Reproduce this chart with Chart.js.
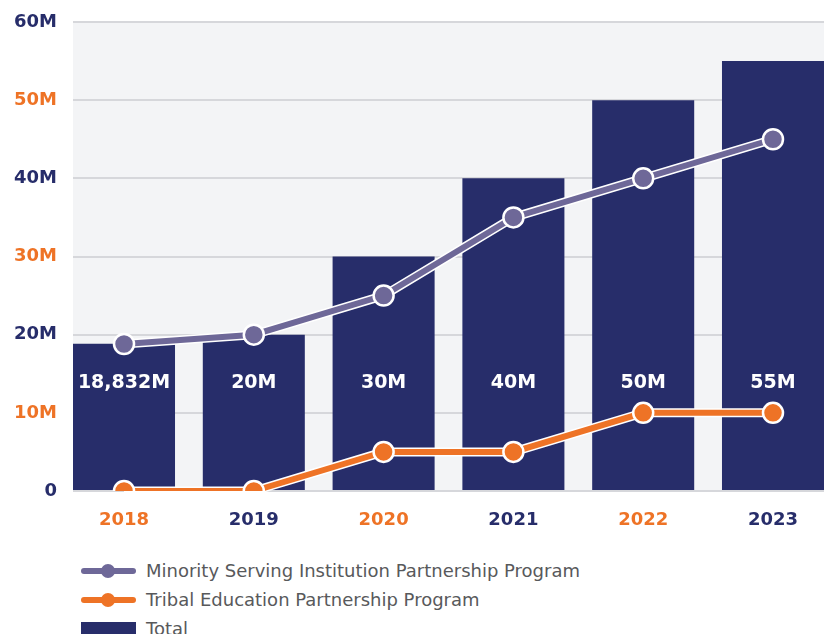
<!DOCTYPE html>
<html lang="en">
<head>
<meta charset="UTF-8">
<title>Partnership Programs</title>
<script src="https://cdn.jsdelivr.net/npm/chart.js"></script>
<style>
    body { margin: 0; background: #fff; font-family: "DejaVu Sans", sans-serif; }
    #wrap { position: relative; width: 831px; height: 540px; }
    #legend { position: absolute; left: 81px; top: 556px; }
    .item { display: flex; align-items: center; height: 29px; font-size: 18px; color: #58595b; }
    .sym { position: relative; width: 55px; height: 20px; margin-right: 10px; }
    .sym .ln { position: absolute; left: 0; right: 0; top: 7px; height: 6px; border-radius: 3px; }
    .sym .dot { position: absolute; left: 20px; top: 3px; width: 14px; height: 14px; border-radius: 50%; }
    .sym .box { position: absolute; left: 0; right: 0; top: 3px; height: 14px; }
</style>
</head>
<body>
<div id="wrap"><canvas id="chart"></canvas></div>
<div id="legend"></div>

<script>
// data
var years = ['2018', '2019', '2020', '2021', '2022', '2023'];
var totals = [18.832, 20, 30, 40, 50, 55];
var totalLabels = ['18,832M', '20M', '30M', '40M', '50M', '55M'];
var minority = [18.8, 20, 25, 35, 40, 45];
var tribal = [0, 0, 5, 5, 10, 10];

var NAVY = '#272d6a';
var ORANGE = '#ee7326';
var PURPLE = '#6e6898';

function pts(arr) {
    return arr.map(function (v, i) { return { x: i, y: v }; });
}

// gray plot background
var bgPlugin = {
    id: 'bg',
    beforeDraw: function (chart) {
        var a = chart.chartArea, ctx = chart.ctx;
        ctx.save();
        ctx.fillStyle = '#f3f4f6';
        ctx.fillRect(a.left, a.top, a.right - a.left, a.bottom - a.top);
        ctx.restore();
    }
};

// white outline under the lines
var outlinePlugin = {
    id: 'outline',
    beforeDatasetDraw: function (chart, args) {
        var ds = chart.data.datasets[args.index];
        if (ds.type !== 'line') return;
        var ctx = chart.ctx;
        ctx.save();
        ctx.strokeStyle = '#fff';
        ctx.lineWidth = 9;
        ctx.lineJoin = 'round';
        ctx.beginPath();
        args.meta.data.forEach(function (p, i) {
            if (i === 0) ctx.moveTo(p.x, p.y); else ctx.lineTo(p.x, p.y);
        });
        ctx.stroke();
        ctx.restore();
    }
};

// value labels inside the bars
var barLabelPlugin = {
    id: 'barLabels',
    afterDatasetDraw: function (chart, args) {
        var ds = chart.data.datasets[args.index];
        if (ds.type !== 'bar') return;
        var ctx = chart.ctx;
        var y = chart.scales.y.getPixelForValue(13.8);
        ctx.save();
        ctx.fillStyle = '#ffffff';
        ctx.font = 'bold 19px "DejaVu Sans"';
        ctx.textAlign = 'center';
        ctx.textBaseline = 'middle';
        args.meta.data.forEach(function (bar, i) {
            ctx.fillText(totalLabels[i], bar.x, y);
        });
        ctx.restore();
    }
};

var ctx = document.getElementById('chart').getContext('2d');
var chart = new Chart(ctx, {
    data: {
        datasets: [
            {
                type: 'line',
                label: 'Minority Serving Institution Partnership Program',
                data: pts(minority),
                borderColor: PURPLE,
                backgroundColor: PURPLE,
                borderWidth: 6,
                pointRadius: 10,
                pointBorderWidth: 2.5,
                pointBorderColor: '#fff',
                pointBackgroundColor: PURPLE,
                order: 1
            },
            {
                type: 'line',
                label: 'Tribal Education Partnership Program',
                data: pts(tribal),
                borderColor: ORANGE,
                backgroundColor: ORANGE,
                borderWidth: 6,
                pointRadius: 10,
                pointBorderWidth: 2.5,
                pointBorderColor: '#fff',
                pointBackgroundColor: ORANGE,
                order: 2
            },
            {
                type: 'bar',
                label: 'Total',
                data: pts(totals),
                backgroundColor: NAVY,
                barPercentage: 1,
                categoryPercentage: 0.786,
                order: 3
            }
        ]
    },
    options: {
        responsive: true,
        maintainAspectRatio: false,
        animation: false,
        layout: { autoPadding: false, padding: { top: 22, bottom: 8, left: 0, right: 7 } },
        plugins: {
            legend: { display: false },
            tooltip: { enabled: false }
        },
        scales: {
            x: {
                type: 'linear',
                offset: false,
                min: -0.393,
                max: 5.393,
                afterBuildTicks: function (scale) {
                    scale.ticks = years.map(function (y, i) { return { value: i }; });
                },
                afterFit: function (scale) { scale.height = 41; },
                grid: { display: false, drawTicks: false, offset: false },
                border: { display: false },
                ticks: {
                    padding: 19,
                    maxRotation: 0,
                    font: { family: 'DejaVu Sans', size: 18, weight: 'bold' },
                    color: function (c) { return c.index % 2 === 0 ? ORANGE : NAVY; },
                    callback: function (v) { return years[v]; }
                }
            },
            y: {
                min: 0,
                max: 60,
                afterFit: function (scale) {
                    scale.width = 73;
                    scale.paddingTop = 0;
                    scale.paddingBottom = 0;
                },
                grid: { color: '#d6d7db', lineWidth: 2, drawTicks: false },
                border: { display: false },
                ticks: {
                    stepSize: 10,
                    padding: 16,
                    font: { family: 'DejaVu Sans', size: 18, weight: 'bold' },
                    color: function (c) { return (c.tick.value / 10) % 2 === 1 ? ORANGE : NAVY; },
                    callback: function (v) { return v === 0 ? '0' : v + 'M'; }
                }
            }
        }
    },
    plugins: [bgPlugin, outlinePlugin, barLabelPlugin]
});

// legend below the chart
var legend = document.getElementById('legend');
chart.data.datasets.forEach(function (ds) {
    var item = document.createElement('div');
    item.className = 'item';
    var sym = document.createElement('div');
    sym.className = 'sym';
    if (ds.type === 'line') {
        sym.innerHTML = '<div class="ln" style="background:' + ds.borderColor + '"></div>' +
            '<div class="dot" style="background:' + ds.borderColor + '"></div>';
    } else {
        sym.innerHTML = '<div class="box" style="background:' + ds.backgroundColor + '"></div>';
    }
    var txt = document.createElement('span');
    txt.textContent = ds.label;
    item.appendChild(sym);
    item.appendChild(txt);
    legend.appendChild(item);
});
</script>
</body>
</html>
